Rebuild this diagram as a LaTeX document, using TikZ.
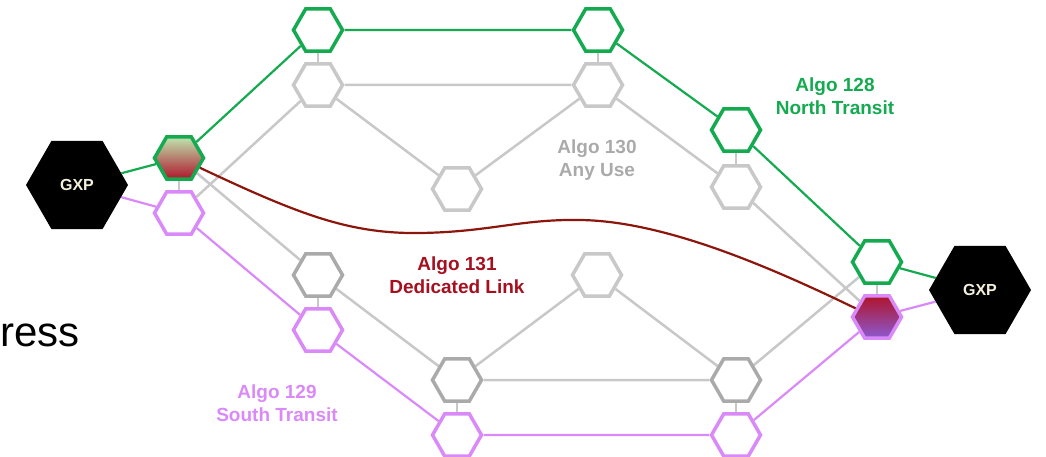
\documentclass[tikz,border=0pt]{standalone}
\usepackage{fontspec}
\setmainfont{Liberation Sans}
\usetikzlibrary{shapes.geometric,backgrounds}

\definecolor{northgreen}{RGB}{20,170,80}
\definecolor{southlilac}{RGB}{218,138,248}
\definecolor{anygray}{RGB}{200,200,200}
\definecolor{darkhexgray}{RGB}{170,170,170}
\definecolor{linkred}{RGB}{140,22,12}
\definecolor{labelred}{RGB}{165,15,30}
\definecolor{gxptext}{RGB}{245,240,220}
\definecolor{shadegreen}{RGB}{190,230,175}
\definecolor{shadered}{RGB}{175,20,42}
\definecolor{shadeviolet}{RGB}{140,90,210}

\tikzset{
	hex/.style={regular polygon, regular polygon sides=6, minimum size=49pt, inner sep=0pt, line width=3.5pt, fill=white},
	northhex/.style={hex, draw=northgreen},
	southhex/.style={hex, draw=southlilac},
	anyhex/.style={hex, draw=anygray},
	darkhex/.style={hex, draw=darkhexgray},
	gxp/.style={regular polygon, regular polygon sides=6, minimum size=102pt, inner sep=0pt, fill=black, text=gxptext, font=\bfseries\fontsize{16}{19}\selectfont},
	algolabel/.style={align=center, inner sep=0.75pt, font=\bfseries\fontsize{19}{23}\selectfont},
	northline/.style={draw=northgreen, line width=2.2pt},
	southline/.style={draw=southlilac, line width=2.2pt},
	anyline/.style={draw=anygray, line width=2.5pt},
}

\begin{document}
\begin{tikzpicture}[x=1pt,y=1pt,yscale=-1,xscale=1]
	\useasboundingbox (0,0) rectangle (1046,457);
	
	% GXP ends
	\node [gxp] (gxpL) at (77,185) {GXP};
	\node [gxp] (gxpR) at (980,290) {GXP};
	
	% Algo 128 hexes
	\node [northhex, top color=shadegreen, bottom color=shadered] (dL) at (179,158) {};
	\node [northhex] (n1) at (318,30) {};
	\node [northhex] (n2) at (598,30) {};
	\node [northhex] (n3) at (736,130) {};
	\node [northhex] (n4) at (877,262) {};
	
	% Algo 129 hexes
	\node [southhex] (s1) at (179,213) {};
	\node [southhex] (s2) at (318,330) {};
	\node [southhex] (s3) at (457,435) {};
	\node [southhex] (s4) at (736,435) {};
	\node [southhex, top color=shadered, bottom color=shadeviolet] (dR) at (877,317) {};
	
	% Algo 130 hexes
	\node [anyhex] (a1) at (318,85) {};
	\node [anyhex] (a2) at (457,189) {};
	\node [anyhex] (a3) at (598,85) {};
	\node [anyhex] (a4) at (736,187) {};
	\node [darkhex] (b1) at (318,275) {};
	\node [darkhex] (b2) at (457,380) {};
	\node [anyhex] (b3) at (597,275) {};
	\node [darkhex] (b4) at (736,380) {};
	
	\begin{scope}[on background layer]
	% Algo 130 links
	\draw [anyline] (dL) -- (s1) (n1) -- (a1) (n2) -- (a3) (n3) -- (a4) (n4) -- (dR);
	\draw [anyline] (b1) -- (s2) (b2) -- (s3) (b4) -- (s4);
	\draw [anyline] (s1) -- (a1) -- (a3) -- (a4) -- (dR);
	\draw [anyline] (a1) -- (a2) -- (a3);
	\draw [anyline] (dL) -- (b1) -- (b2) -- (b4) -- (n4);
	\draw [anyline] (b2) -- (b3) -- (b4);
	% Algo 128 links
	\draw [northline] (gxpL) -- (dL) -- (n1) -- (n2) -- (n3) -- (n4) -- (gxpR);
	% Algo 129 links
	\draw [southline] (gxpL) -- (s1) -- (s2) -- (s3) -- (s4) -- (dR) -- (gxpR);
	\end{scope}
	
	% Algo 131 link
	\draw [linkred, line width=2.2pt] (dL.-25) .. controls (300,215) and (350,234) .. (420,233) .. controls (490,232) and (520,219) .. (580,220) .. controls (660,221) and (760,262) .. (dR.158);
	
	% Text Node
	\node [algolabel, text=northgreen] (lbl128) at (835,96) {Algo 128\\North Transit};
	% Text Node
	\node [algolabel, text=southlilac] (lbl129) at (277,403) {Algo 129\\South Transit};
	% Text Node
	\node [algolabel, text=darkhexgray] (lbl130) at (597,160) {Algo 130\\Any Use};
	% Text Node
	\node [algolabel, text=labelred] (lbl131) at (457,275) {Algo 131\\Dedicated Link};
	% Text Node
	\node [anchor=base east, inner sep=0pt, font=\fontsize{42}{50}\selectfont] (ress) at (80,346) {ress};
	
\end{tikzpicture}
\end{document}
